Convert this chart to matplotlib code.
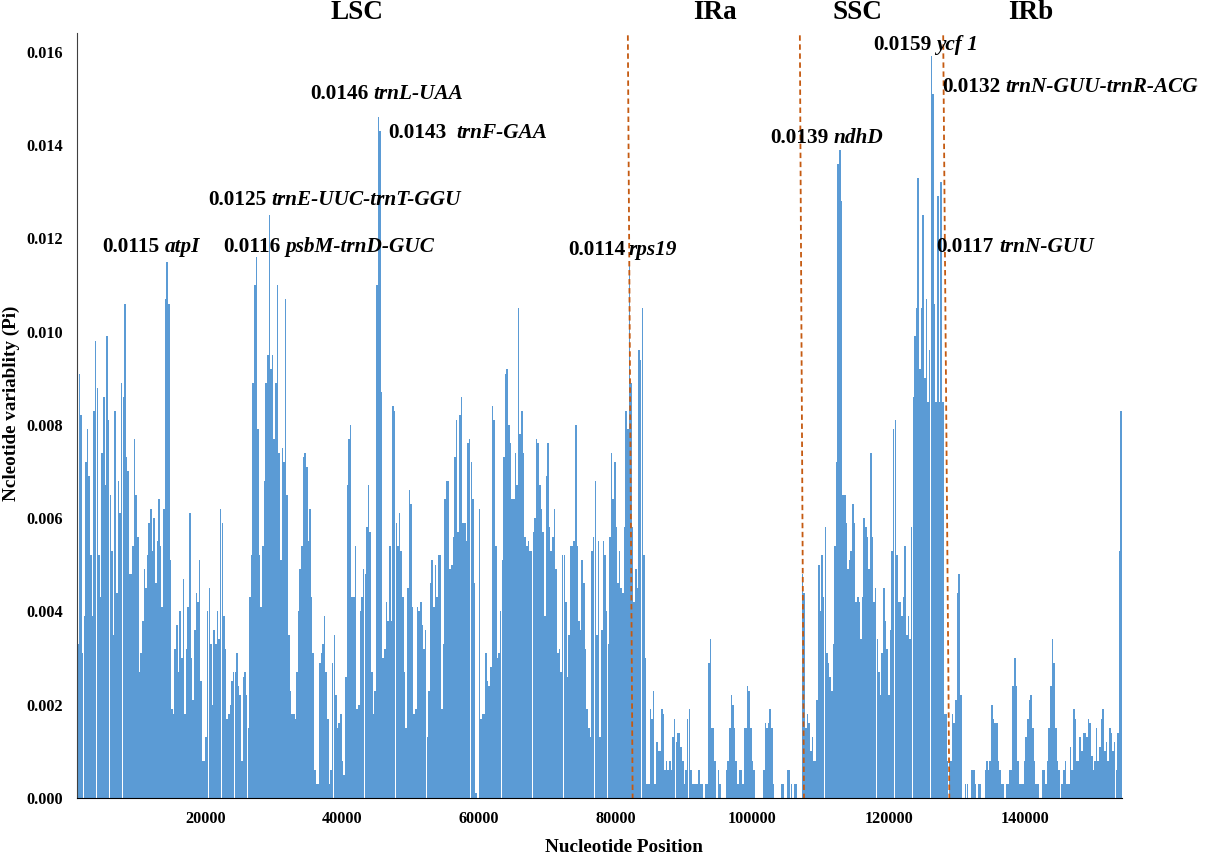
import numpy as np
import matplotlib.pyplot as plt

plt.rcParams['font.family'] = ['Liberation Serif', 'DejaVu Serif']
plt.rcParams['font.weight'] = 'bold'

# Pi values (x 0.001), four stretches of the genome
seg_edges = [1100, 39630, 77870, 116070, 154200]

pi_seg1 = [3.3, 9.1, 8.2, 3.1, 3.9, 7.2, 7.9, 6.9, 5.2, 3.9, 8.3, 9.8, 8.8, 5.2, 4.3, 7.4, 8.6, 6.7, 9.9, 8.1,
           6.5, 5.3, 3.5, 8.3, 4.4, 6.8, 6.1, 8.9, 8.6, 10.6, 7.3, 7.0, 4.8, 4.8, 5.4, 7.7, 6.5, 5.6, 2.7, 3.1,
           3.8, 4.9, 4.5, 5.2, 5.9, 6.2, 5.3, 6.0, 4.6, 5.5, 6.4, 5.4, 4.1, 6.2, 10.7, 11.5, 10.6, 5.1, 1.9, 1.8,
           3.2, 3.7, 2.7, 4.0, 3.0, 4.7, 1.8, 3.2, 4.1, 6.1, 3.0, 2.1, 3.6, 4.4, 4.2, 5.1, 2.5, 0.8, 0.8, 1.3,
           4.0, 4.5, 3.3, 2.0, 3.6, 3.3, 4.0, 3.4, 6.2, 5.9, 3.9, 3.2, 1.7, 1.8, 2.0, 2.5, 2.7, 2.7, 3.1, 2.4,
           2.2, 0.8, 2.6, 2.7, 2.2, 1.5, 4.3, 5.2, 8.9, 11.0, 11.6, 7.9, 5.2, 4.1, 5.4, 6.8, 8.9, 9.5, 12.5, 9.2,
           9.5, 7.7, 8.9, 11.0, 7.4, 5.1, 7.5, 7.2, 10.7, 6.5, 3.5, 2.3, 1.8, 1.8, 1.7, 2.7, 4.0, 4.9, 5.4, 7.3,
           7.4, 7.1, 5.5, 6.2, 4.3, 3.1, 0.6, 0.3, 0.3, 2.9, 3.1, 3.3, 3.9, 2.7, 1.7, 0.3, 0.6, 2.9, 3.5, 2.2,
           1.5, 1.6]
pi_seg2 = [1.8, 0.8, 0.5, 2.6, 6.7, 7.7, 8.0, 4.3, 4.3, 5.4, 1.9, 2.0, 4.0, 4.3, 4.9, 4.8, 5.8, 6.7, 5.7, 2.7,
           1.8, 2.3, 11.0, 14.6, 14.3, 8.7, 3.0, 3.2, 4.2, 3.8, 5.4, 3.8, 8.4, 8.3, 5.9, 5.4, 6.1, 5.3, 4.3, 2.7,
           1.5, 4.5, 6.6, 6.3, 4.1, 1.8, 1.9, 4.1, 4.0, 4.2, 3.7, 3.2, 3.6, 1.3, 2.3, 4.6, 5.1, 4.1, 5.0, 4.3,
           5.2, 5.2, 1.9, 3.3, 6.4, 6.8, 6.8, 4.9, 5.0, 5.6, 7.3, 8.1, 5.7, 8.2, 8.6, 5.9, 5.9, 5.5, 7.6, 7.7,
           7.2, 6.4, 4.6, 0.1, 0.0, 6.2, 1.7, 1.8, 1.8, 3.1, 2.5, 2.4, 2.8, 8.4, 8.1, 5.4, 3.0, 3.1, 4.0, 5.1,
           7.3, 9.1, 9.2, 8.0, 7.6, 6.4, 6.4, 7.4, 6.7, 10.5, 7.8, 8.3, 7.4, 5.6, 5.4, 5.5, 5.3, 5.3, 5.7, 6.0,
           7.7, 7.6, 6.7, 6.2, 5.7, 3.9, 6.9, 7.6, 5.8, 5.3, 5.6, 6.2, 4.9, 3.1, 3.2, 2.7, 5.2, 5.2, 4.2, 2.6,
           3.5, 5.4, 5.4, 5.5, 8.0, 5.4, 3.8, 3.6, 5.1, 4.6, 3.2, 1.9, 1.5, 1.3, 5.3, 5.6, 6.8, 3.5, 5.5, 1.3]
pi_seg3 = [3.6, 5.5, 5.2, 4.0, 3.3, 5.6, 7.4, 6.4, 7.2, 5.8, 4.6, 5.3, 4.5, 4.4, 5.8, 8.3, 7.9, 11.4, 8.9, 5.8,
           4.2, 4.9, 4.5, 9.6, 9.4, 10.5, 5.2, 3.0, 0.3, 0.3, 1.9, 1.7, 2.3, 0.3, 1.2, 1.0, 1.0, 1.9, 1.8, 0.6,
           0.8, 0.6, 0.8, 0.6, 1.3, 1.7, 1.2, 1.4, 1.4, 1.1, 0.8, 0.3, 0.6, 1.7, 1.9, 0.6, 0.3, 0.3, 0.3, 0.3,
           0.6, 0.3, 0.3, 0.0, 0.3, 0.3, 2.9, 3.4, 1.5, 1.5, 0.8, 0.0, 0.6, 0.3, 0.0, 0.0, 0.0, 0.6, 0.8, 1.5,
           2.2, 2.0, 1.5, 0.8, 0.3, 0.6, 0.6, 0.3, 1.5, 1.5, 2.4, 2.3, 1.5, 0.8, 0.6, 0.0, 0.0, 0.0, 0.0, 0.0,
           0.6, 1.6, 1.5, 1.6, 1.9, 1.5, 0.3, 0.0, 0.0, 0.0, 0.0, 0.3, 0.3, 0.0, 0.0, 0.6, 0.6, 0.3, 0.0, 0.3,
           0.3, 0.0, 0.0, 0.0, 4.8, 4.4, 1.5, 1.8, 1.6, 1.0, 1.3, 0.8, 0.8, 2.1, 5.0, 4.0, 5.2, 4.3, 5.8, 3.1,
           2.9, 2.6, 2.3, 3.3, 5.4, 7.2, 13.6, 13.9, 12.8, 6.5, 6.5, 5.9, 4.9, 5.1, 5.3, 6.3, 5.9, 4.2, 4.3, 4.2,
           3.4]
pi_seg4 = [4.3, 6.0, 5.8, 5.6, 4.9, 7.4, 5.6, 4.2, 4.5, 3.4, 2.7, 2.2, 3.1, 4.5, 3.8, 3.2, 2.2, 3.6, 5.3, 7.9,
           8.1, 5.2, 4.2, 4.2, 3.9, 4.3, 5.4, 3.5, 3.9, 3.4, 5.8, 8.6, 9.9, 10.5, 13.3, 9.2, 10.5, 12.5, 9.0, 10.7,
           8.5, 9.6, 15.9, 15.1, 10.6, 8.5, 12.9, 8.5, 13.2, 8.5, 1.8, 1.8, 0.8, 0.8, 0.8, 1.8, 1.6, 2.1, 4.4, 4.8,
           2.2, 0.0, 0.0, 0.3, 0.3, 0.0, 0.0, 0.6, 0.6, 0.3, 0.0, 0.3, 0.3, 0.0, 0.0, 0.6, 0.8, 0.6, 0.8, 2.0,
           1.7, 1.6, 1.6, 0.8, 0.6, 0.3, 0.3, 0.0, 0.3, 0.3, 0.6, 0.6, 2.4, 3.0, 2.4, 0.8, 0.3, 0.3, 0.3, 0.8,
           1.3, 1.7, 2.1, 2.2, 1.5, 0.8, 0.3, 0.3, 0.0, 0.0, 0.6, 0.6, 0.3, 0.8, 1.5, 2.4, 3.4, 2.9, 1.5, 0.8,
           0.6, 0.0, 0.3, 0.6, 0.8, 0.3, 0.3, 1.1, 0.6, 1.9, 1.7, 0.8, 0.8, 1.3, 1.0, 1.4, 1.4, 1.3, 1.7, 1.6,
           0.9, 0.6, 0.8, 1.5, 0.8, 1.1, 1.7, 1.9, 1.0, 1.2, 0.8, 1.5, 1.4, 1.0, 1.2, 0.6, 1.4, 5.3, 8.3]

# region borders (dashed lines), top and bottom ends in bp
borders_top = [81800, 107000, 128000]
borders_bottom = [82500, 107600, 128900]

regions = ['LSC', 'IRa', 'SSC', 'IRb']
region_x = [0.294, 0.589, 0.707, 0.850]   # figure fraction

# peak labels: x, y (label position), value, gene, gap after the value (pt)
notes = [
    (4760, 0.01181, '0.0115', 'atpI', 3.8),
    (22500, 0.01181, '0.0116', 'psbM-trnD-GUC', 3.8),
    (20300, 0.01282, '0.0125', 'trnE-UUC-trnT-GGU', 3.8),
    (35200, 0.01509, '0.0146', 'trnL-UAA', 3.8),
    (46650, 0.01425, '0.0143', 'trnF-GAA', 7.6),
    (73000, 0.01175, '0.0114', 'rps19', 2.5),
    (102600, 0.01415, '0.0139', 'ndhD', 3.8),
    (117700, 0.01614, '0.0159', 'ycf 1', 3.8),
    (127800, 0.01524, '0.0132', 'trnN-GUU-trnR-ACG', 3.8),
    (127000, 0.01181, '0.0117', 'trnN-GUU', 3.8),
]

fig = plt.figure(figsize=(12.13, 8.59), dpi=100)
ax = fig.add_axes([0.0635, 0.071, 0.8615, 0.8906])

segs = [pi_seg1, pi_seg2, pi_seg3, pi_seg4]
for i, vals in enumerate(segs):
    n = len(vals)
    step = (seg_edges[i + 1] - seg_edges[i]) / n
    pos = seg_edges[i] + step * (np.arange(n) + 0.5)
    ax.bar(pos, np.array(vals) * 0.001, width=step * 0.97, color='#5B9BD5', linewidth=0)

for xt, xb in zip(borders_top, borders_bottom):
    ax.plot([xt, xb], [0.01635, 0], color='#C55A11', lw=1.3, ls=(0, (3, 2)))

ax.set_xlim(1100, 154200)
ax.set_ylim(0, 0.0164)
ax.set_xticks([20000, 40000, 60000, 80000, 100000, 120000, 140000])
ax.set_yticks(np.arange(0, 0.0161, 0.002))
ax.yaxis.set_major_formatter(plt.FormatStrFormatter('%.3f'))
ax.tick_params(length=0, labelsize=11.7, pad=9)
ax.tick_params(axis='y', pad=10)
for lab in ax.get_xticklabels() + ax.get_yticklabels():
    lab.set_fontweight('bold')

for s in ['top', 'right']:
    ax.spines[s].set_visible(False)
ax.spines['left'].set_color('#404040')
ax.spines['bottom'].set_color('black')

for x, y, num, gene, gap in notes:
    t = ax.text(x, y, num, fontsize=15.3, fontweight='bold', ha='left', va='center')
    ax.annotate(gene, xy=(1, 0.5), xycoords=t, xytext=(gap, 0), textcoords='offset points',
                ha='left', va='center', fontsize=15.3, fontweight='bold', fontstyle='italic')

for name, fx in zip(regions, region_x):
    fig.text(fx, 0.986, name, fontsize=19.5, fontweight='bold', ha='center', va='center')

fig.text(0.5145, 0.013, 'Nucleotide Position', fontsize=13.8, fontweight='bold', ha='center', va='center')
fig.text(0.009, 0.531, 'Ncleotide variablity (Pi)', fontsize=13.8, fontweight='bold',
         ha='center', va='center', rotation=90)

plt.savefig('out.png', dpi=100)
